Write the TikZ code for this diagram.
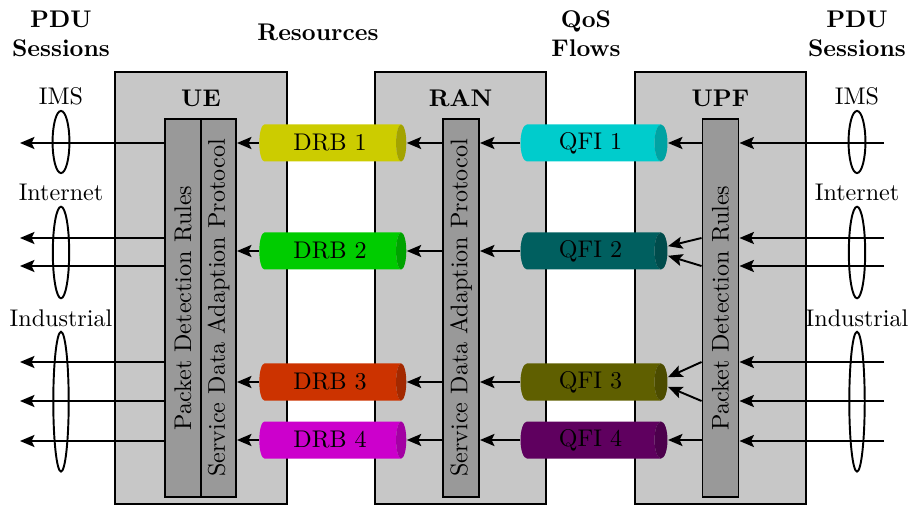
\documentclass[tikz,border=0pt]{standalone}
\usetikzlibrary{shapes.geometric,arrows.meta}
\definecolor{drbA}{RGB}{204,204,0}
\definecolor{drbB}{RGB}{0,204,0}
\definecolor{drbC}{RGB}{204,51,0}
\definecolor{drbD}{RGB}{204,0,204}
\definecolor{qfiA}{RGB}{0,204,204}
\definecolor{qfiB}{RGB}{0,95,95}
\definecolor{qfiC}{RGB}{95,95,0}
\definecolor{qfiD}{RGB}{95,0,95}
\begin{document}
\begin{tikzpicture}[x=0.415pt,y=-0.415pt,
  outer/.style={draw,thick,fill=black!22,inner sep=0pt,minimum width=171*0.415pt,minimum height=432*0.415pt},
  bar/.style={draw,thick,fill=black!40,inner sep=0pt,minimum width=36*0.415pt,minimum height=378*0.415pt},
  vtext/.style={rotate=90,inner sep=0pt},
  cyl/.style={cylinder,cylinder uses custom fill,cylinder body fill=#1,cylinder end fill=#1!80!black,
    minimum height=147*0.415pt,minimum width=37*0.415pt,aspect=0.6,inner sep=0pt},
  arr/.style={thick,-{Stealth[length=6pt,width=5pt,inset=1.2pt]}},
  lbl/.style={font=\bfseries,align=center},
  ell/.style={thick}]
\useasboundingbox (0,0) rectangle (912,506);
% headings
\node[lbl] (pdul) at (61,34) {PDU\\Sessions};
\node[lbl] (res) at (318,32) {Resources};
\node[lbl] (qos) at (586,34) {QoS\\Flows};
\node[lbl] (pdur) at (857,34) {PDU\\Sessions};
% outer boxes
\node[outer,minimum width=172*0.415pt] (ue) at (201,288) {};
\node[outer] (ran) at (460.5,288) {};
\node[outer] (upf) at (720.5,288) {};
\node[lbl] (uel) at (201,98) {UE};
\node[lbl] (ranl) at (460.5,98) {RAN};
\node[lbl] (upfl) at (720.5,98) {UPF};
% bars
\node[bar] (uepdr) at (183,308) {};
\node[vtext] at (uepdr) {Packet Detection Rules};
\node[bar,minimum width=35*0.415pt] (uesdap) at (218.5,308) {};
\node[vtext] at (uesdap) {Service Data Adaption Protocol};
\node[bar] (ransdap) at (461,308) {};
\node[vtext] at (ransdap) {Service Data Adaption Protocol};
\node[bar] (upfpdr) at (720.5,308) {};
\node[vtext] at (upfpdr) {Packet Detection Rules};
% cylinders
\node[cyl=drbA] (drb1) at (330,143) {DRB 1};
\node[cyl=drbB] (drb2) at (330,251) {DRB 2};
\node[cyl=drbC] (drb3) at (330,382) {DRB 3};
\node[cyl=drbD] (drb4) at (330,440) {DRB 4};
\node[cyl=qfiA] (qfi1) at (590.5,143) {QFI 1};
\node[cyl=qfiB] (qfi2) at (590.5,251) {QFI 2};
\node[cyl=qfiC] (qfi3) at (590.5,382) {QFI 3};
\node[cyl=qfiD] (qfi4) at (590.5,440) {QFI 4};
% session labels
\node (imsl) at (61,96) {IMS};
\node (intl) at (61,192) {Internet};
\node (indl) at (61,318) {Industrial};
\node (imsr) at (857,96) {IMS};
\node (intr) at (857,192) {Internet};
\node (indr) at (857,318) {Industrial};
% free ends
\coordinate (la) at (20,143);
\coordinate (lb) at (20,238);
\coordinate (lc) at (20,266);
\coordinate (ld) at (20,362);
\coordinate (le) at (20,401);
\coordinate (lf) at (20,441);
\coordinate (ra) at (884,143);
\coordinate (rb) at (884,238);
\coordinate (rc) at (884,266);
\coordinate (rd) at (884,362);
\coordinate (re) at (884,401);
\coordinate (rf) at (884,441);
% left arrows
\foreach \c in {la,lb,lc,ld,le,lf}
  \draw[arr] (uepdr.west |- \c) -- (\c);
% right arrows
\foreach \c in {ra,rb,rc,rd,re,rf}
  \draw[arr] (\c) -- (upfpdr.east |- \c);
% ellipses
\draw[ell] (61,142) ellipse [x radius=3.5pt,y radius=12.9pt];
\draw[ell] (61,252.5) ellipse [x radius=3.4pt,y radius=19pt];
\draw[ell] (61,401.7) ellipse [x radius=3.2pt,y radius=29pt];
\draw[ell] (857,142) ellipse [x radius=3.5pt,y radius=12.9pt];
\draw[ell] (857,252.5) ellipse [x radius=3.4pt,y radius=19pt];
\draw[ell] (857,401.7) ellipse [x radius=3.2pt,y radius=29pt];
% DRB -> UE SDAP
\foreach \d in {drb1,drb2,drb3,drb4}
  \draw[arr] (\d.west) -- (uesdap.east |- \d.west);
% RAN SDAP -> DRB
\foreach \d in {drb1,drb2,drb3,drb4}
  \draw[arr] (ransdap.west |- \d.east) -- (\d.east);
% QFI -> RAN SDAP
\foreach \q in {qfi1,qfi2,qfi3,qfi4}
  \draw[arr] (\q.west) -- (ransdap.east |- \q.west);
% UPF PDR -> QFI
\draw[arr] (upfpdr.west |- qfi1.east) -- (qfi1.east);
\draw[arr] (upfpdr.west |- rb) -- ([yshift=2pt]qfi2.east);
\draw[arr] (upfpdr.west |- rc) -- ([yshift=-2pt]qfi2.east);
\draw[arr] (upfpdr.west |- rd) -- ([yshift=2pt]qfi3.east);
\draw[arr] (upfpdr.west |- re) -- ([yshift=-2pt]qfi3.east);
\draw[arr] (upfpdr.west |- qfi4.east) -- (qfi4.east);
\end{tikzpicture}
\end{document}
